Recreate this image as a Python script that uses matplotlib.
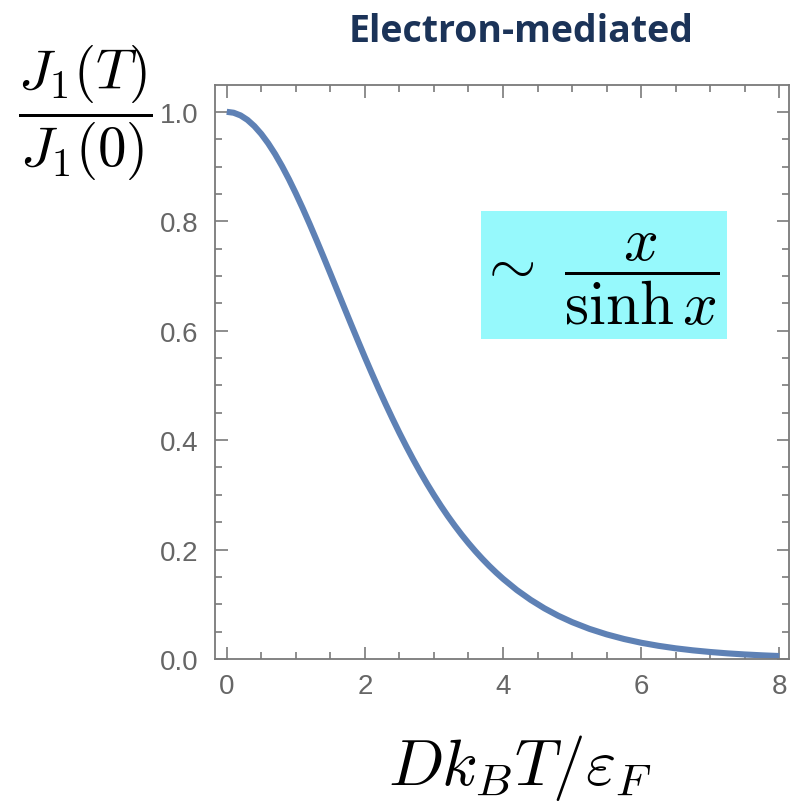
import matplotlib
matplotlib.use("Agg")
import matplotlib.pyplot as plt
from matplotlib.ticker import MultipleLocator
from matplotlib.patches import Rectangle

plt.rcParams['mathtext.fontset'] = 'cm'

# Normalised exchange coupling vs. reduced temperature
x_vals = [0.0, 0.1, 0.2, 0.3, 0.4, 0.5, 0.6, 0.7, 0.8, 0.9,
          1.0, 1.1, 1.2, 1.3, 1.4, 1.5, 1.6, 1.7, 1.8, 1.9,
          2.0, 2.1, 2.2, 2.3, 2.4, 2.5, 2.6, 2.7, 2.8, 2.9,
          3.0, 3.1, 3.2, 3.3, 3.4, 3.5, 3.6, 3.7, 3.8, 3.9,
          4.0, 4.2, 4.4, 4.6, 4.8, 5.0, 5.25, 5.5, 5.75,
          6.0, 6.25, 6.5, 6.75, 7.0, 7.25, 7.5, 7.75, 8.0]
j_ratio = [1.0000, 0.9983, 0.9934, 0.9852, 0.9738, 0.9595, 0.9424, 0.9228, 0.9008, 0.8768,
           0.8509, 0.8236, 0.7950, 0.7654, 0.7352, 0.7045, 0.6735, 0.6426, 0.6118, 0.5814,
           0.5514, 0.5222, 0.4936, 0.4659, 0.4391, 0.4132, 0.3884, 0.3646, 0.3418, 0.3201,
           0.2995, 0.2799, 0.2613, 0.2438, 0.2272, 0.2116, 0.1969, 0.1831, 0.1701, 0.1580,
           0.1466, 0.1260, 0.1081, 0.0925, 0.0790, 0.0674, 0.0551, 0.0450, 0.0366,
           0.0297, 0.0241, 0.0195, 0.0158, 0.0128, 0.0103, 0.0083, 0.0067, 0.0054]

x_ticks = [0, 2, 4, 6, 8]
y_ticks = [0.0, 0.2, 0.4, 0.6, 0.8, 1.0]

W, H = 791, 803
fig = plt.figure(figsize=(W / 100, H / 100), dpi=100)
ax = fig.add_axes([215 / W, 1 - 660 / H, (789 - 215) / W, (660 - 86) / H])

ax.plot(x_vals, j_ratio, color='#5E81B5', lw=4.4, solid_capstyle='butt',
        solid_joinstyle='round', clip_on=False, zorder=2)

ax.set_xlim(-0.17, 8.14)
ax.set_ylim(0, 1.049)

ax.set_xticks(x_ticks)
ax.set_xticklabels([str(v) for v in x_ticks])
ax.set_yticks(y_ticks)
ax.set_yticklabels([f"{v:.1f}" for v in y_ticks])
ax.xaxis.set_minor_locator(MultipleLocator(0.5))
ax.yaxis.set_minor_locator(MultipleLocator(0.05))

gray = '#7a7a7a'
for s in ax.spines.values():
    s.set_color(gray)
    s.set_linewidth(1.3)
ax.tick_params(which='both', direction='in', top=True, right=True,
               color=gray, width=1.2)
ax.tick_params(which='major', length=9, labelsize=20, labelcolor='#666666')
ax.tick_params(axis='x', which='major', pad=10)
ax.tick_params(axis='y', which='major', pad=12)
ax.tick_params(which='minor', length=5)
for lab in ax.get_xticklabels() + ax.get_yticklabels():
    lab.set_fontfamily('Liberation Sans')

# Formula box
ax.add_patch(Rectangle((3.68, 0.585), 3.56, 0.234, facecolor='#96F9FC',
                       edgecolor='none', zorder=1))
ax.text(5.39, 0.694, r'$\sim\ \dfrac{x}{\sinh x}$', fontsize=44,
        ha='center', va='center', zorder=3)

fig.text(521 / W, 1 - 32 / H, 'Electron-mediated', fontsize=27,
         fontweight='bold', color='#1B3358', family='Open Sans',
         ha='center', va='center')
fig.text(85 / W, 1 - 112 / H, r'$\dfrac{J_1(T)}{J_1(0)}$', fontsize=41,
         ha='center', va='center')
fig.text(520 / W, 1 - 785 / H, r'$Dk_BT/\varepsilon_F$', fontsize=47,
         ha='center', va='baseline')

fig.savefig('out.png', dpi=100)
